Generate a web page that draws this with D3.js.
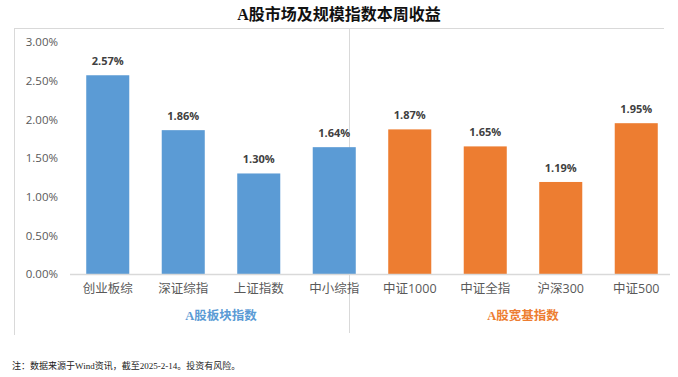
<!DOCTYPE html>
<html><head><meta charset="utf-8">
<script src="https://cdn.jsdelivr.net/npm/d3@7"></script>
<style>body{margin:0;background:#fff}svg{display:block}</style>
</head><body>
<script>
const categories = ["创业板综","深证综指","上证指数","中小综指","中证1000","中证全指","沪深300","中证500"];
const values = [2.57,1.86,1.30,1.64,1.87,1.65,1.19,1.95];
const groups = ["A股板块指数","A股板块指数","A股板块指数","A股板块指数","A股宽基指数","A股宽基指数","A股宽基指数","A股宽基指数"];
const groupNames = ["A股板块指数","A股宽基指数"];
const groupColors = ["#5B9BD5","#ED7D31"];
const yTicks = [0,0.5,1,1.5,2,2.5,3];
const title = "A股市场及规模指数本周收益";
const note = "注：数据来源于Wind资讯，截至2025-2-14。投资有风险。";

const W=678,H=377;
const svg=d3.select("body").append("svg").attr("width",W).attr("height",H);
const sans="'Open Sans','Noto Sans CJK SC',sans-serif";

svg.append("text").attr("x",339).attr("y",20).attr("text-anchor","middle")
  .attr("font-family","'Liberation Serif','Noto Sans CJK SC',serif").attr("font-weight","bold")
  .attr("font-size",16).attr("fill","#111").text(title);

// frame lines
svg.append("line").attr("x1",14).attr("x2",664).attr("y1",28.5).attr("y2",28.5).attr("stroke","#d9d9d9");
svg.append("line").attr("x1",14.5).attr("x2",14.5).attr("y1",28).attr("y2",335).attr("stroke","#d9d9d9");

const x=d3.scaleBand().domain(categories).range([70,674]).paddingInner(0.43).paddingOuter(0.215);
const y=d3.scaleLinear().domain([0,3]).range([274,42]);
const color=d3.scaleOrdinal().domain(groupNames).range(groupColors);

// separator
const sepX = (x(categories[3])+x.bandwidth()+x(categories[4]))/2 + 0.5;
svg.append("line").attr("x1",349.5).attr("x2",349.5).attr("y1",28).attr("y2",333).attr("stroke","#d9d9d9");

// y axis labels
const yAxis=d3.axisLeft(y).tickValues(yTicks).tickFormat(d=>d.toFixed(2)+"%").tickSize(0).tickPadding(0);
const ya=svg.append("g").attr("transform","translate(58,0)").call(yAxis);
ya.select(".domain").remove();
ya.selectAll("text").attr("font-family",sans).attr("font-size",11.5).attr("fill","#595959");

// bars
svg.selectAll("rect.bar").data(categories).join("rect").attr("class","bar")
  .attr("x",d=>x(d)).attr("width",x.bandwidth())
  .attr("y",(d,i)=>y(values[i])).attr("height",(d,i)=>y(0)-y(values[i]))
  .attr("fill",(d,i)=>color(groups[i]));

// value labels
svg.selectAll("text.val").data(categories).join("text").attr("class","val")
  .attr("x",d=>x(d)+x.bandwidth()/2).attr("y",(d,i)=>y(values[i])-10)
  .attr("text-anchor","middle").attr("font-family",sans).attr("font-weight","bold")
  .attr("font-size",11).attr("fill","#404040").text((d,i)=>values[i].toFixed(2)+"%");

// x axis
const xAxis=d3.axisBottom(x).tickSize(0).tickPadding(10);
const xa=svg.append("g").attr("transform","translate(0,274)").call(xAxis);
xa.select(".domain").attr("d","M70,0.5H670").attr("stroke","#d9d9d9").attr("stroke-width",1.5);
xa.selectAll("text").attr("font-family",sans).attr("font-size",12.5).attr("fill","#595959");

// group labels
groupNames.forEach((g,gi)=>{
  const cats=categories.filter((c,i)=>groups[i]===g);
  const cx=(x(cats[0])+x(cats[cats.length-1])+x.bandwidth())/2;
  svg.append("text").attr("x",cx).attr("y",320).attr("text-anchor","middle")
    .attr("font-family","'Liberation Serif','Noto Sans CJK SC',serif").attr("font-weight","bold")
    .attr("font-size",12.5).attr("fill",groupColors[gi]).text(g);
});

svg.append("text").attr("x",12).attr("y",369).attr("font-family","'Liberation Serif','Noto Sans CJK SC',serif")
  .attr("font-size",9).attr("fill","#222").text(note);
</script>
</body></html>
